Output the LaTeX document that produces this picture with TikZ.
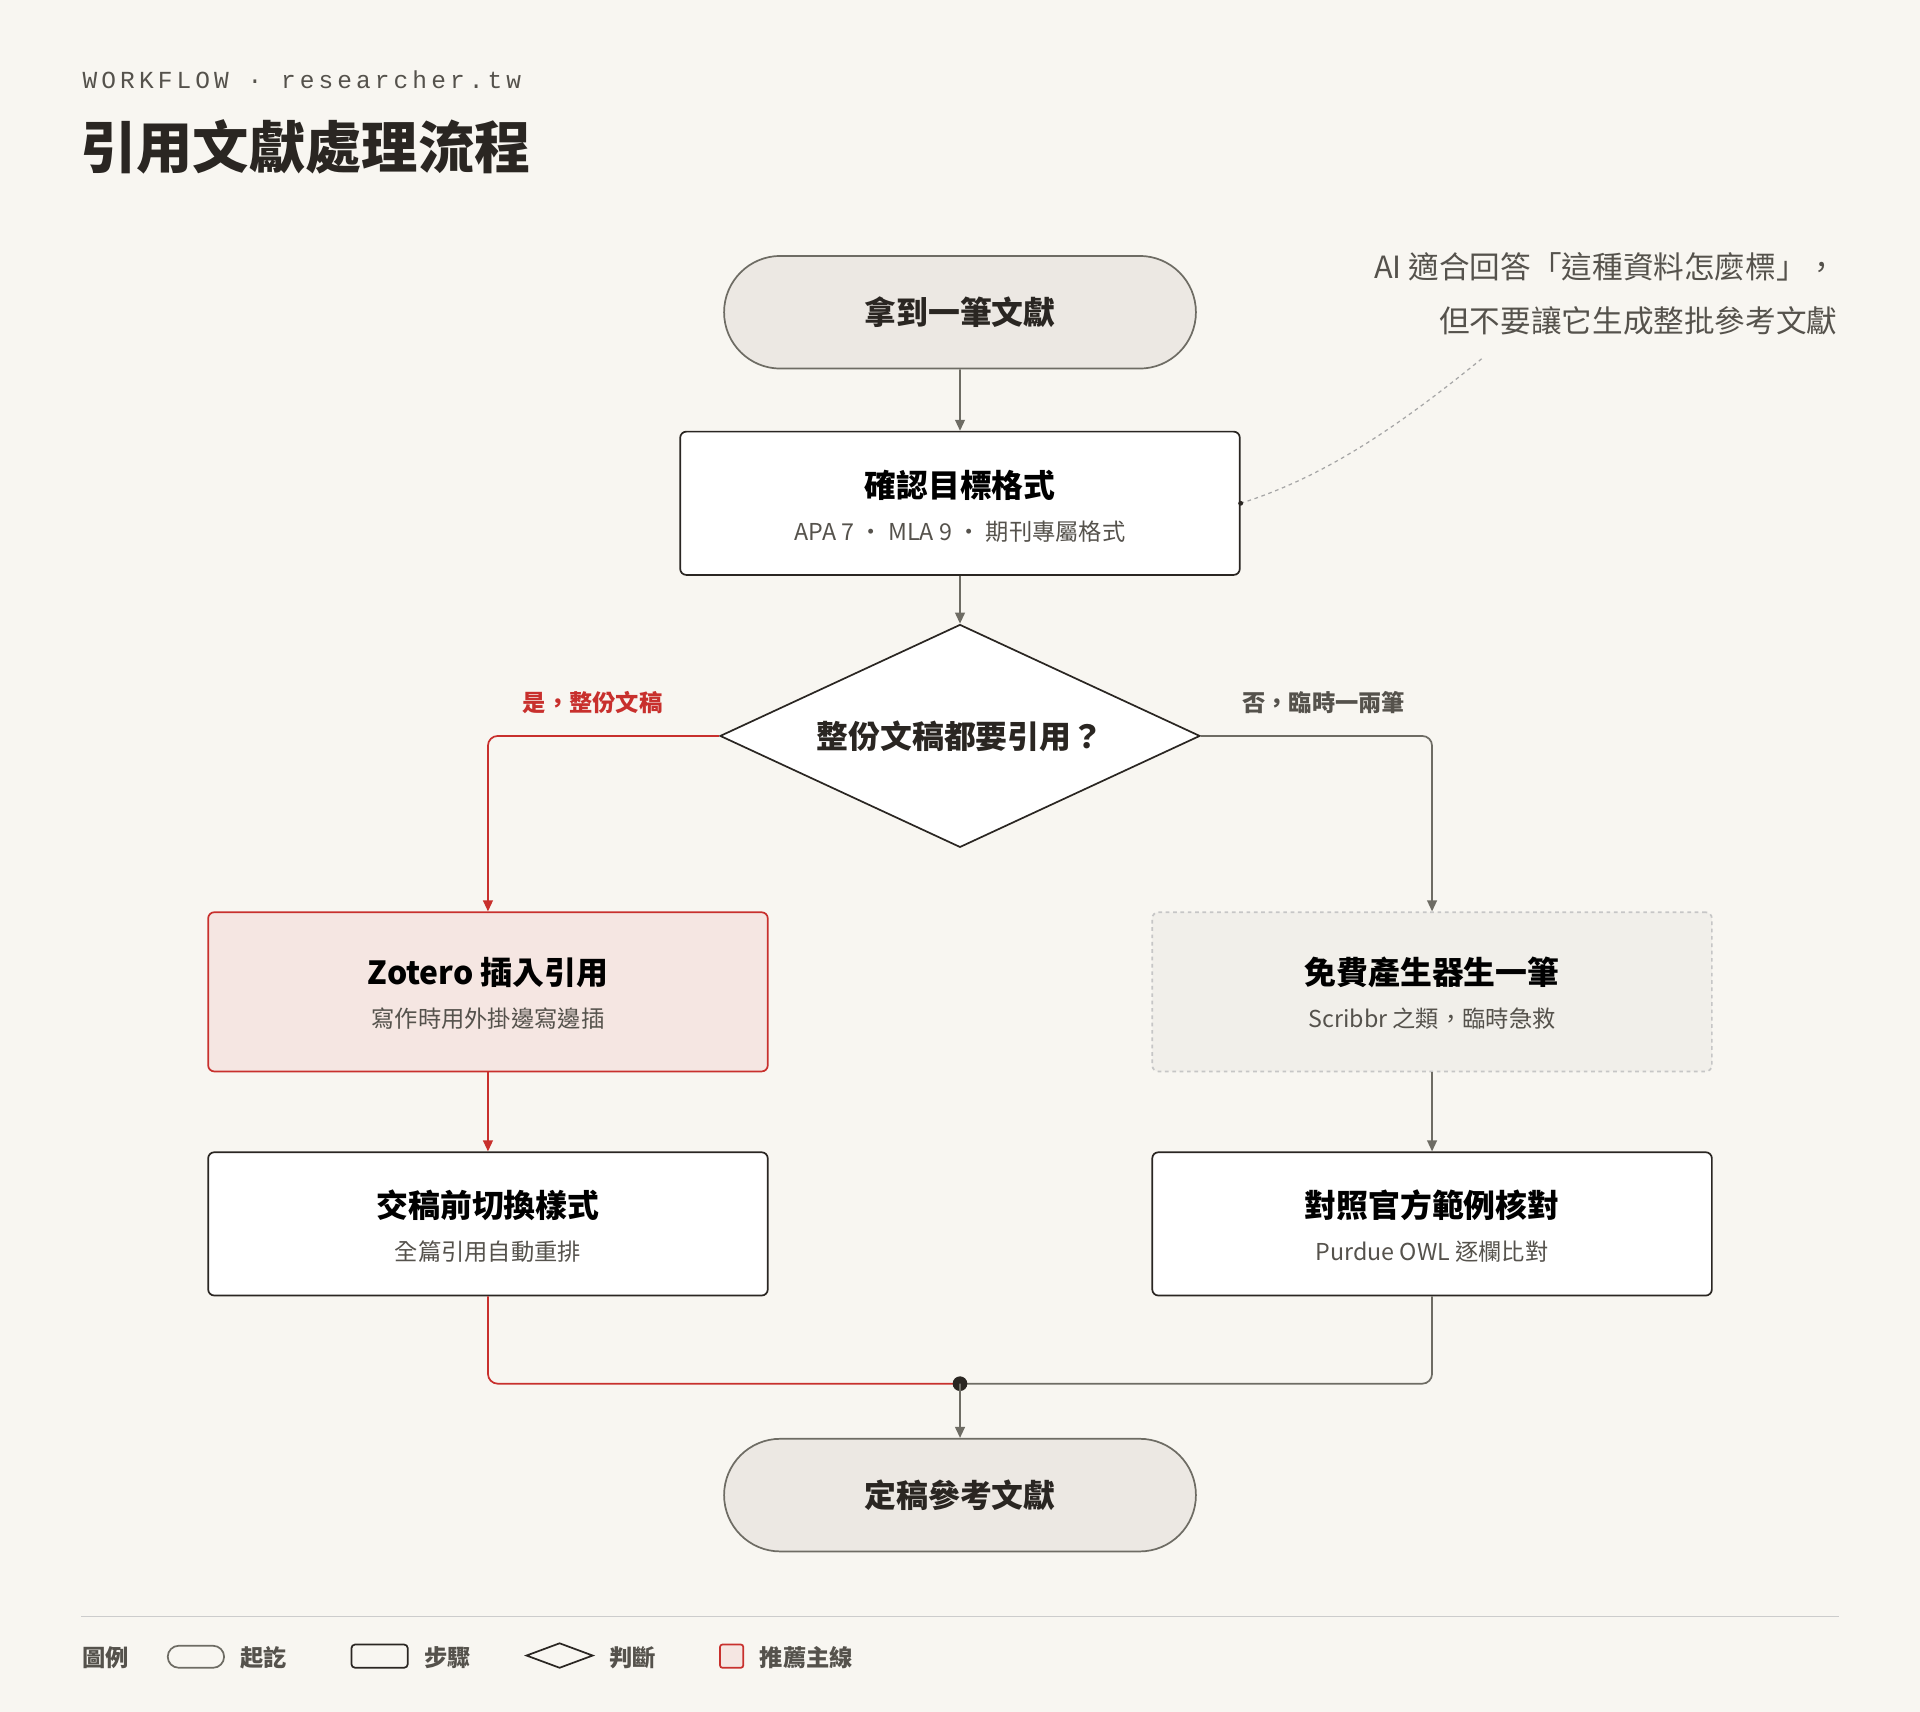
\documentclass[tikz,border=0pt]{standalone}
\usepackage{fontspec}
\setmainfont{Noto Sans CJK TC}
\newfontfamily\cjkb{Noto Sans CJK TC}[BoldFont={* Bold}]
\newfontfamily\monof{Liberation Mono}
\usetikzlibrary{shapes.geometric,arrows.meta}
\definecolor{bg}{HTML}{F8F6F1}
\definecolor{ink}{HTML}{2A2622}
\definecolor{gr}{HTML}{6E6C64}
\definecolor{rd}{HTML}{C8302D}
\definecolor{pill}{HTML}{ECE8E3}
\definecolor{pink}{HTML}{F5E6E2}
\definecolor{soft}{HTML}{F1EFEA}
\definecolor{sub}{HTML}{55524C}
\begin{document}
\begin{tikzpicture}[x=1pt,y=-1pt,
 pillst/.style={draw=gr,line width=1.4pt,fill=pill,rounded rectangle,minimum width=392pt,minimum height=92pt,font=\bfseries\fontsize{26}{30}\selectfont,text=ink},
 box/.style={draw=ink,line width=1.4pt,fill=white,rounded corners=5pt,minimum width=457pt,minimum height=117pt,align=center,text=ink},
 arr/.style={draw=gr,line width=1.4pt,-{Triangle[length=9pt,width=8pt]}},
 rarr/.style={draw=rd,line width=1.4pt,-{Triangle[length=9pt,width=8pt]}},
 ttl/.style={font=\bfseries\fontsize{26}{30}\selectfont},
 st/.style={font=\fontsize{19}{23}\selectfont,text=sub},
 lab/.style={font=\bfseries\fontsize{19}{23}\selectfont}]
\usetikzlibrary{shapes.misc}
\fill[bg] (0,0) rectangle (1568,1398);
\useasboundingbox (0,0) rectangle (1568,1398);
\node[anchor=west,text=sub,font=\monof\fontsize{20}{24}\selectfont] (hd) at (64,65) {W\,O\,R\,K\,F\,L\,O\,W \,·\, r\,e\,s\,e\,a\,r\,c\,h\,e\,r\,.\,t\,w};
\node[anchor=west,text=ink,font=\bfseries\fontsize{46}{52}\selectfont] (title) at (62,120) {引用文獻處理流程};
\node[pillst] (start) at (784,255) {拿到一筆文獻};
\node[box] (b1) at (784,411) {};
\node[ttl] (b1t) at (784,396) {確認目標格式};
\node[st] (b1s) at (784,434) {APA 7 · MLA 9 · 期刊專屬格式};
\node[diamond,draw=ink,line width=1.4pt,fill=white,minimum width=392pt,minimum height=182pt,inner sep=0pt,aspect=2.15] (d) at (784,601) {};
\node[ttl,text=ink] (dt) at (784,601) {整份文稿都要引用？};
\node[box,draw=rd,fill=pink,minimum height=130pt] (zl) at (398.5,810) {};
\node[ttl] (zlt) at (398.5,794) {Zotero 插入引用};
\node[st] (zls) at (398.5,832) {寫作時用外掛邊寫邊插};
\node[box,draw=gray!45,dashed,fill=soft,minimum height=130pt] (fr) at (1169.5,810) {};
\node[ttl] (frt) at (1169.5,794) {免費產生器生一筆};
\node[st] (frs) at (1169.5,832) {Scribbr 之類，臨時急救};
\node[box] (l2) at (398.5,999.5) {};
\node[ttl] (l2t) at (398.5,984) {交稿前切換樣式};
\node[st] (l2s) at (398.5,1022) {全篇引用自動重排};
\node[box] (r2) at (1169.5,999.5) {};
\node[ttl] (r2t) at (1169.5,984) {對照官方範例核對};
\node[st] (r2s) at (1169.5,1022) {Purdue OWL 逐欄比對};
\coordinate (j) at (784,1130);
\node[pillst] (end) at (784,1221) {定稿參考文獻};
\draw[arr] (start) -- (b1);
\draw[arr] (b1) -- (d);
\draw[rarr,rounded corners=8pt] (d.west) -| (zl.north);
\draw[arr,rounded corners=8pt] (d.east) -| (fr.north);
\node[lab,text=rd] (ly) at (484,574) {是，整份文稿};
\node[lab,text=sub] (ln) at (1081,574) {否，臨時一兩筆};
\draw[rarr] (zl) -- (l2);
\draw[arr] (fr) -- (r2);
\draw[rd,line width=1.4pt,rounded corners=8pt] (l2.south) |- (j);
\draw[gr,line width=1.4pt,rounded corners=8pt] (r2.south) |- (j);
\fill[ink] (j) circle (6pt);
\draw[arr] (j) -- (end);
\node[anchor=east,align=right,text=sub,font=\fontsize{25}{44}\selectfont] (note) at (1504,240) {AI 適合回答「這種資料怎麼標」，\\但不要讓它生成整批參考文獻};
\coordinate (nc) at (1210,293);
\draw[gray!70,dashed,line width=1pt] (nc) .. controls (1140,350) and (1080,390) .. (b1.east);
\fill[ink] (b1.east) circle (2pt);
\draw[gray!40,line width=0.8pt] (66,1320) -- (1502,1320);
\node[anchor=west,lab,text=sub] (lg) at (64,1354) {圖例};
\draw[gr,line width=1.4pt,rounded corners=9pt] (137,1344) rectangle (183,1362);
\node[anchor=west,lab,text=sub] (lg1) at (193,1354) {起訖};
\draw[ink,line width=1.4pt,rounded corners=3pt] (287,1343) rectangle (333,1362);
\node[anchor=west,lab,text=sub] (lg2) at (343,1354) {步驟};
\draw[ink,line width=1.4pt] (430,1352) -- (457,1342) -- (484,1352) -- (457,1362) -- cycle;
\node[anchor=west,lab,text=sub] (lg3) at (494,1354) {判斷};
\draw[rd,line width=1.4pt,fill=pink,rounded corners=2pt] (588,1343) rectangle (607,1362);
\node[anchor=west,lab,text=sub] (lg4) at (617,1354) {推薦主線};
\end{tikzpicture}
\end{document}
